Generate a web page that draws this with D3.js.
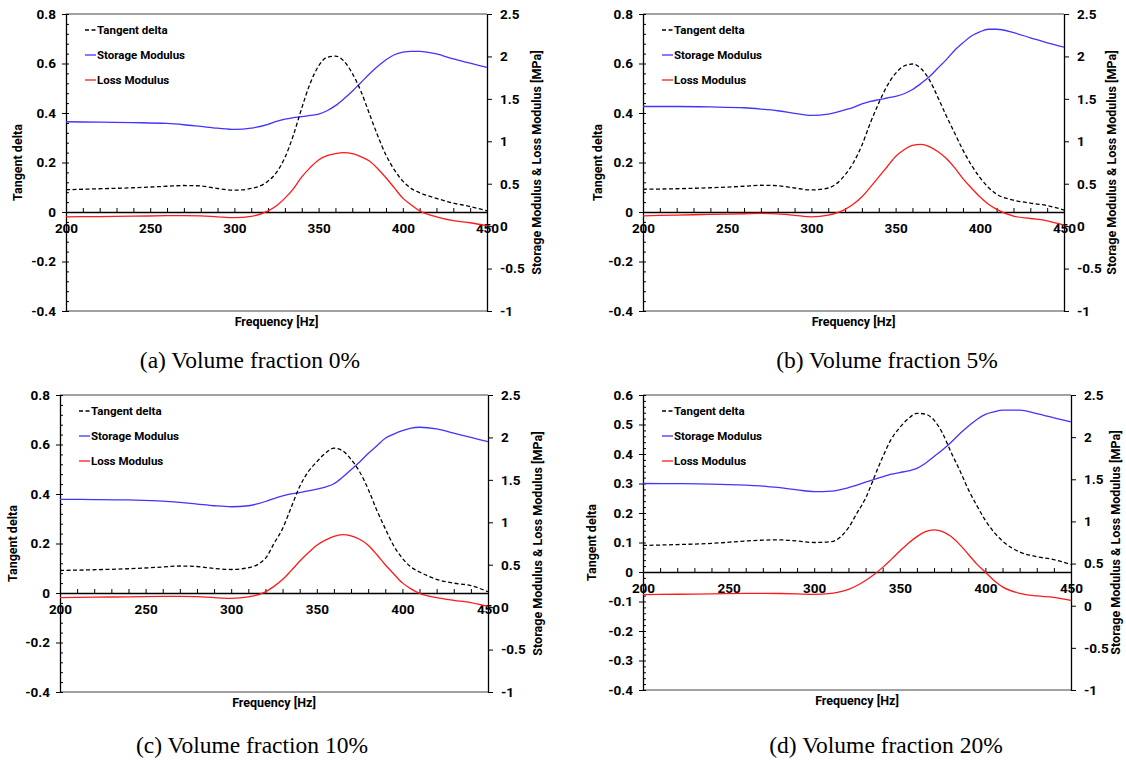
<!DOCTYPE html>
<html>
<head>
<meta charset="utf-8">
<script src="https://cdn.jsdelivr.net/npm/d3@7/dist/d3.min.js"></script>
<style>
  body { margin: 0; background: #fff; }
  svg { display: block; }
  .tick text { font-family: Roboto, Lato, sans-serif; font-weight: bold; font-size: 13.5px; fill: #000; }
</style>
</head>
<body>
<div id="chart"></div>
<script>
// shared frequency grid [Hz]
var freq = [200,220,240,260,270,280,290,300,310,320,325,330,335,340,345,350,355,360,365,370,375,380,385,390,395,400,405,410,420,430,440,450];

// (a) 0%
var tanA = [0.09,0.094,0.098,0.104,0.107,0.105,0.095,0.088,0.095,0.125,0.16,0.22,0.31,0.42,0.52,0.59,0.625,0.63,0.61,0.56,0.49,0.40,0.31,0.23,0.17,0.125,0.095,0.078,0.055,0.036,0.022,0.005];
var storageA = [1.23,1.225,1.22,1.21,1.195,1.175,1.155,1.14,1.155,1.20,1.235,1.26,1.28,1.29,1.305,1.32,1.36,1.42,1.50,1.59,1.69,1.79,1.88,1.96,2.02,2.05,2.06,2.06,2.03,1.97,1.92,1.87];
var lossA = [0.11,0.113,0.117,0.123,0.125,0.122,0.11,0.10,0.115,0.18,0.24,0.33,0.44,0.58,0.69,0.78,0.83,0.855,0.866,0.855,0.82,0.77,0.68,0.57,0.45,0.33,0.25,0.18,0.11,0.065,0.04,0.005];

// (b) 5%
var tanB = [0.092,0.094,0.098,0.104,0.108,0.106,0.097,0.089,0.097,0.15,0.20,0.27,0.36,0.44,0.51,0.56,0.59,0.598,0.58,0.535,0.465,0.39,0.32,0.25,0.19,0.14,0.10,0.072,0.048,0.036,0.026,0.008];
var storageB = [1.41,1.41,1.405,1.395,1.38,1.36,1.33,1.305,1.32,1.37,1.40,1.44,1.47,1.49,1.51,1.53,1.56,1.61,1.68,1.76,1.86,1.96,2.07,2.16,2.24,2.29,2.32,2.32,2.28,2.22,2.16,2.11];
var lossB = [0.122,0.13,0.138,0.146,0.15,0.145,0.128,0.11,0.13,0.197,0.26,0.346,0.46,0.58,0.70,0.82,0.90,0.953,0.963,0.937,0.88,0.80,0.69,0.56,0.45,0.346,0.26,0.197,0.118,0.09,0.063,0.012];

// (c) 10%
var tanC = [0.091,0.094,0.098,0.105,0.109,0.107,0.099,0.095,0.102,0.14,0.20,0.26,0.345,0.43,0.49,0.53,0.565,0.585,0.575,0.54,0.49,0.42,0.335,0.26,0.19,0.14,0.105,0.085,0.055,0.04,0.03,0.005];
var storageC = [1.27,1.268,1.263,1.25,1.234,1.215,1.195,1.183,1.195,1.245,1.28,1.31,1.335,1.35,1.37,1.39,1.415,1.454,1.53,1.62,1.71,1.81,1.90,1.99,2.04,2.08,2.11,2.12,2.10,2.05,2.00,1.95];
var lossC = [0.112,0.117,0.122,0.127,0.128,0.124,0.112,0.104,0.12,0.18,0.245,0.325,0.43,0.54,0.64,0.73,0.79,0.835,0.855,0.84,0.80,0.73,0.62,0.50,0.39,0.286,0.215,0.162,0.112,0.08,0.054,0.008];

// (d) 20%
var tanD = [0.09,0.093,0.097,0.105,0.108,0.109,0.105,0.10,0.103,0.15,0.20,0.25,0.32,0.39,0.45,0.49,0.52,0.538,0.535,0.515,0.47,0.405,0.345,0.28,0.225,0.175,0.135,0.105,0.068,0.052,0.042,0.025];
var storageD = [1.45,1.448,1.443,1.43,1.42,1.40,1.375,1.354,1.36,1.40,1.43,1.466,1.50,1.53,1.56,1.58,1.60,1.63,1.69,1.77,1.85,1.94,2.04,2.13,2.21,2.27,2.30,2.32,2.32,2.28,2.23,2.18];
var lossD = [0.131,0.136,0.141,0.146,0.147,0.145,0.14,0.135,0.147,0.193,0.24,0.30,0.37,0.455,0.55,0.648,0.74,0.82,0.88,0.90,0.88,0.82,0.725,0.61,0.494,0.397,0.30,0.224,0.147,0.116,0.10,0.062];

// axis ticks
var xTicks = [200, 250, 300, 350, 400, 450];
var leftTicksWide = [-0.4, -0.2, 0, 0.2, 0.4, 0.6, 0.8];
var leftTicksNarrow = [-0.4, -0.3, -0.2, -0.1, 0, 0.1, 0.2, 0.3, 0.4, 0.5, 0.6];
var rightTicks = [-1, -0.5, 0, 0.5, 1, 1.5, 2, 2.5];

var legendNames = ["Tangent delta", "Storage Modulus", "Loss Modulus"];
var captions = ["(a) Volume fraction 0%", "(b) Volume fraction 5%", "(c) Volume fraction 10%", "(d) Volume fraction 20%"];

var W = 1126, H = 762;
var svg = d3.select("#chart").append("svg").attr("width", W).attr("height", H);

var panels = [
  {L: 66, R: 487, T: 14, B: 311, lmax: 0.8, ticks: leftTicksWide, minor: 0.04, tan: tanA, sto: storageA, loss: lossA, titleX: 18, rtX: 537, cap: captions[0], capX: 250, capY: 368},
  {L: 643, R: 1064, T: 14, B: 311, lmax: 0.8, ticks: leftTicksWide, minor: 0.04, tan: tanB, sto: storageB, loss: lossB, titleX: 598, rtX: 1112, cap: captions[1], capX: 887, capY: 368},
  {L: 60, R: 488, T: 395, B: 692, lmax: 0.8, ticks: leftTicksWide, minor: 0.04, tan: tanC, sto: storageC, loss: lossC, titleX: 13, rtX: 538, cap: captions[2], capX: 252, capY: 753},
  {L: 643, R: 1071, T: 395, B: 690, lmax: 0.6, ticks: leftTicksNarrow, minor: 0.02, tan: tanD, sto: storageD, loss: lossD, titleX: 592, rtX: 1116, cap: captions[3], capX: 886, capY: 753}
];

var fmt = function (v) { var s = String(+v.toFixed(2)); return s === "-0" ? "0" : s; };
var font = "Roboto, Lato, sans-serif";

panels.forEach(function (p) {
  var g = svg.append("g");
  var x = d3.scaleLinear().domain([200, 450]).range([p.L, p.R]);
  var yL = d3.scaleLinear().domain([-0.4, p.lmax]).range([p.B, p.T]);
  var yR = d3.scaleLinear().domain([-1, 2.5]).range([p.B, p.T]);
  var y0 = yL(0);

  // plot frame top/bottom
  g.append("line").attr("x1", p.L).attr("x2", p.R).attr("y1", p.T).attr("y2", p.T).attr("stroke", "#444").attr("stroke-width", 1);
  g.append("line").attr("x1", p.L).attr("x2", p.R).attr("y1", p.B).attr("y2", p.B).attr("stroke", "#444").attr("stroke-width", 1);

  // minor ticks on left axis (inside)
  var minorVals = d3.range(-0.4, p.lmax + 1e-9, p.minor);
  g.append("g").attr("transform", "translate(" + p.L + ",0)")
    .call(d3.axisRight(yL).tickValues(minorVals).tickSize(3).tickFormat(""))
    .call(function (s) { s.select(".domain").remove(); });

  // left axis
  g.append("g").attr("transform", "translate(" + p.L + ",0)")
    .call(d3.axisLeft(yL).tickValues(p.ticks).tickSizeInner(4).tickSizeOuter(0).tickPadding(6).tickFormat(fmt))
    .call(function (s) { s.select(".domain").attr("stroke", "#000").attr("stroke-width", 1.3); });

  // right axis
  g.append("g").attr("transform", "translate(" + p.R + ",0)")
    .call(d3.axisRight(yR).tickValues(rightTicks).tickSizeInner(5).tickSizeOuter(0).tickPadding(8).tickFormat(fmt))
    .call(function (s) { s.select(".domain").attr("stroke", "#000").attr("stroke-width", 1.3); });

  // x axis on the zero line: ticks upward every 10 Hz
  g.append("g").attr("transform", "translate(0," + y0 + ")")
    .call(d3.axisTop(x).tickValues(d3.range(200, 451, 10)).tickSizeInner(4).tickSizeOuter(0).tickFormat(""))
    .call(function (s) { s.select(".domain").attr("stroke", "#000").attr("stroke-width", 1.3); });
  g.append("g").attr("transform", "translate(0," + y0 + ")")
    .call(d3.axisBottom(x).tickValues(xTicks).tickSize(0).tickPadding(11).tickFormat(d3.format("d")))
    .call(function (s) { s.select(".domain").remove(); });

  // series
  var lineL = d3.line().x(function (d, i) { return x(freq[i]); }).y(function (d) { return yL(d); }).curve(d3.curveMonotoneX);
  var lineR = d3.line().x(function (d, i) { return x(freq[i]); }).y(function (d) { return yR(d); }).curve(d3.curveMonotoneX);
  g.append("path").datum(p.sto).attr("d", lineR).attr("fill", "none").attr("stroke", "#4433ff").attr("stroke-width", 1.3);
  g.append("path").datum(p.loss).attr("d", lineR).attr("fill", "none").attr("stroke", "#ff1a1a").attr("stroke-width", 1.3);
  g.append("path").datum(p.tan).attr("d", lineL).attr("fill", "none").attr("stroke", "#000").attr("stroke-width", 1.3).attr("stroke-dasharray", "4,2.5");

  // legend
  var colors = ["#000", "#4433ff", "#ff1a1a"];
  legendNames.forEach(function (name, i) {
    var ly = p.T + 16 + i * 25;
    g.append("line").attr("x1", p.L + 19).attr("x2", p.L + 30).attr("y1", ly).attr("y2", ly)
      .attr("stroke", colors[i]).attr("stroke-width", 1.3).attr("stroke-dasharray", i === 0 ? "4,2.5" : null);
    g.append("text").attr("x", p.L + 31).attr("y", ly).attr("dy", "0.35em")
      .attr("font-family", font).attr("font-weight", "bold").attr("font-size", 11.5).text(name);
  });

  // axis titles
  var midY = (p.T + p.B) / 2;
  g.append("text").attr("transform", "translate(" + p.titleX + "," + midY + ") rotate(-90)")
    .attr("text-anchor", "middle").attr("dy", "0.35em")
    .attr("font-family", font).attr("font-weight", "bold").attr("font-size", 12.5).text("Tangent delta");
  g.append("text").attr("transform", "translate(" + p.rtX + "," + midY + ") rotate(-90)")
    .attr("text-anchor", "middle").attr("dy", "0.35em")
    .attr("font-family", font).attr("font-weight", "bold").attr("font-size", 12.5).text("Storage Modulus & Loss Modulus [MPa]");
  g.append("text").attr("x", (p.L + p.R) / 2).attr("y", p.B + 11).attr("dy", "0.35em")
    .attr("text-anchor", "middle")
    .attr("font-family", font).attr("font-weight", "bold").attr("font-size", 12.5).text("Frequency [Hz]");

  // caption
  svg.append("text").attr("x", p.capX).attr("y", p.capY).attr("text-anchor", "middle")
    .attr("font-family", "'Liberation Serif', 'Times New Roman', serif").attr("font-size", 23.5).text(p.cap);
});
</script>
</body>
</html>
